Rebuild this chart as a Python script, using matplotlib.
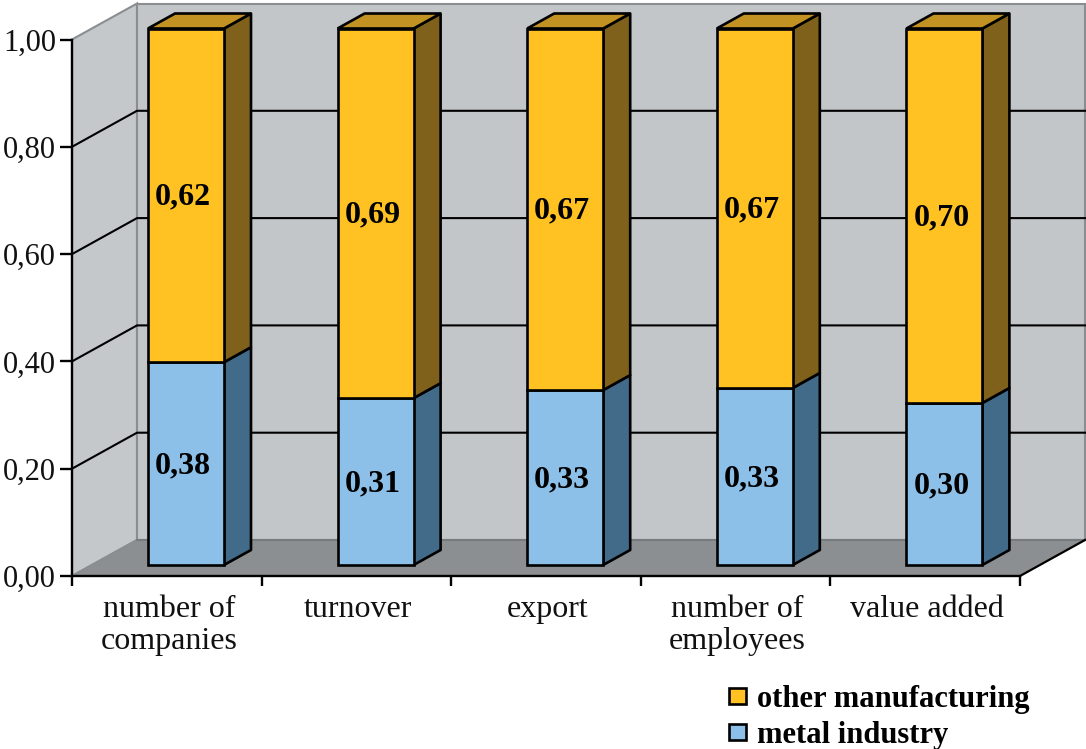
import matplotlib
matplotlib.use('Agg')
import matplotlib.pyplot as plt
from matplotlib.patches import Patch
from matplotlib.ticker import FixedLocator, NullFormatter

# Chart data
categories = ['number of\ncompanies', 'turnover', 'export', 'number of\nemployees', 'value added']
metal_industry = [0.378, 0.311, 0.326, 0.330, 0.302]
other_manufacturing = [0.622, 0.689, 0.674, 0.670, 0.698]
y_ticks = [0.0, 0.2, 0.4, 0.6, 0.8, 1.0]

# Colours
YELLOW, YELLOW_TOP, YELLOW_SIDE = '#FFC222', '#C29323', '#80611B'
BLUE, BLUE_SIDE = '#8CC0E8', '#426A89'
WALL_LEFT, WALL_BACK, FLOOR, EDGE = '#C4C8CB', '#C2C6C9', '#8B8F91', '#8A8E90'
FONT = 'Liberation Serif'

W, H = 1086, 749
fig = plt.figure(figsize=(W / 100, H / 100), dpi=100)
ax = fig.add_axes([72 / W, (H - 576) / H, 948 / W, 536.5 / H])
ax.set_xlim(0, 5)
ax.set_ylim(0, 1)
ax.patch.set_visible(False)

# pixel sizes converted to data units
px_x = 5 / 948
px_y = 1 / 536.5
wall_dx, wall_dy = 65 * px_x, 36 * px_y
front_dx, front_dy = 19.2 * px_x, 11 * px_y
depth_dx, depth_dy = 27 * px_x, 15 * px_y
bar_w = 76 * px_x

# Walls and floor
ax.fill([0, wall_dx, wall_dx, 0], [0, wall_dy, 1 + wall_dy, 1], fc=WALL_LEFT, ec=EDGE, lw=1.5, clip_on=False, zorder=1)
ax.fill([wall_dx, 5 + wall_dx, 5 + wall_dx, wall_dx], [wall_dy, wall_dy, 1 + wall_dy, 1 + wall_dy],
        fc=WALL_BACK, ec=EDGE, lw=1.5, clip_on=False, zorder=1)
ax.fill([0, 5, 5 + wall_dx, wall_dx], [0, 0, wall_dy, wall_dy], fc=FLOOR, ec='none', clip_on=False, zorder=2)
ax.plot([0, wall_dx], [0, wall_dy], color=EDGE, lw=1.5, clip_on=False, zorder=2)
ax.plot([wall_dx, 5 + wall_dx], [wall_dy, wall_dy], color='#777B7D', lw=1.5, clip_on=False, zorder=2)
ax.plot([5, 5 + wall_dx], [0, wall_dy], color='black', lw=1.6, clip_on=False, zorder=3)

# Gridlines on the walls
for y in y_ticks[1:-1]:
    ax.plot([0, wall_dx, 5 + wall_dx], [y, y + wall_dy, y + wall_dy], color='black', lw=1.5, clip_on=False, zorder=3)

# Stacked 3D-looking bars
for i, (low, high) in enumerate(zip(metal_industry, other_manufacturing)):
    x0 = i + 0.5 + front_dx - bar_w / 2
    x1 = x0 + bar_w
    base = front_dy
    for bottom, val, face, side in [(base, low, BLUE, BLUE_SIDE), (base + low, high, YELLOW, YELLOW_SIDE)]:
        ax.fill([x1, x1 + depth_dx, x1 + depth_dx, x1],
                [bottom, bottom + depth_dy, bottom + val + depth_dy, bottom + val],
                fc=side, ec='black', lw=1.9, joinstyle='round', clip_on=False, zorder=4)
        ax.bar(x0, val, bar_w, bottom=bottom, align='edge', color=face, edgecolor='black', linewidth=1.9,
               clip_on=False, zorder=5)
        ax.text((x0 + x1) / 2 - 3 * px_x, bottom + val / 2 - 2 * px_y, f'{val:.2f}'.replace('.', ','),
                ha='center', va='center', fontsize=23, fontweight='bold', family=FONT, color='black', zorder=6)
    top = base + low + high
    ax.fill([x0, x1, x1 + depth_dx, x0 + depth_dx], [top, top, top + depth_dy, top + depth_dy],
            fc=YELLOW_TOP, ec='black', lw=1.9, clip_on=False, zorder=4)

# Axes
for name in ['top', 'right']:
    ax.spines[name].set_visible(False)
for name in ['left', 'bottom']:
    ax.spines[name].set_linewidth(1.7)
    ax.spines[name].set_zorder(6)
ax.set_yticks(y_ticks)
ax.set_yticklabels([f'{v:.2f}'.replace('.', ',') for v in y_ticks], fontsize=22, family=FONT, color='#111111')
ax.tick_params(axis='y', length=9, width=1.7, pad=2.5)

ax.xaxis.set_major_locator(FixedLocator(range(6)))
ax.xaxis.set_major_formatter(NullFormatter())
ax.set_xticks([i + 0.5 + 2 * px_x for i in range(5)], minor=True)
ax.set_xticklabels(categories, minor=True, fontsize=23, family=FONT, color='#111111', linespacing=1.12)
ax.tick_params(axis='x', which='major', length=7.5, width=1.7)
ax.tick_params(axis='x', which='minor', length=0, pad=14)

# Legend
handles = [Patch(fc=YELLOW, ec='black', lw=1.9, label='other manufacturing'),
           Patch(fc=BLUE, ec='black', lw=1.9, label='metal industry')]
fig.legend(handles=handles, loc='upper left', bbox_to_anchor=(729 / W, 1 - 685 / H), frameon=False,
           prop={'family': FONT, 'weight': 'bold', 'size': 22}, handlelength=0.56, handleheight=0.4,
           handletextpad=0.36, labelspacing=0.23, borderpad=0, borderaxespad=0)

fig.savefig('out.png', dpi=100)
